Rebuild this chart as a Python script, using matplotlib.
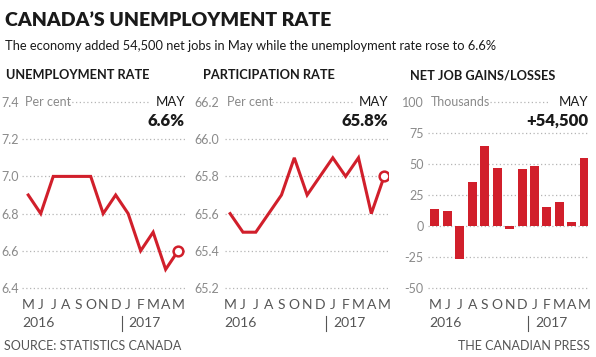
import matplotlib.pyplot as plt

months = ['M', 'J', 'J', 'A', 'S', 'O', 'N', 'D', 'J', 'F', 'M', 'A', 'M']
unemployment = [6.9, 6.8, 7.0, 7.0, 7.0, 7.0, 6.8, 6.9, 6.8, 6.6, 6.7, 6.5, 6.6]
participation = [65.6, 65.5, 65.5, 65.6, 65.7, 65.9, 65.7, 65.8, 65.9, 65.8, 65.9, 65.6, 65.8]
job_changes = [13.8, 11.7, -26.3, 35.6, 64.7, 46.7, -2.6, 45.9, 48.3, 15.3, 19.4, 3.2, 54.5]

unemp_ticks = [6.4, 6.6, 6.8, 7.0, 7.2, 7.4]
part_ticks = [65.2, 65.4, 65.6, 65.8, 66.0, 66.2]
job_ticks = [-50, -25, 0, 25, 50, 75, 100]

RED = '#d11f2b'
GREY = '#8a8a8a'
DARK = '#1a1a1a'

plt.rcParams['font.family'] = ['Lato', 'DejaVu Sans']

W, H = 596, 357
fig = plt.figure(figsize=(W / 100, H / 100), dpi=100)


def fx(px):
    return px / W


def fy(py):
    return 1 - py / H


def make_axes(left, right, top=102, bottom=288):
    ax = fig.add_axes([fx(left), fy(bottom), fx(right - left), (bottom - top) / H])
    for s in ax.spines.values():
        s.set_visible(False)
    ax.patch.set_alpha(0)
    return ax


def style_axes(ax, ticks, labels, xlim, pad, unit, dots, value):
    ax.set_xlim(*xlim)
    ax.set_ylim(ticks[0], ticks[-1])
    ax.set_yticks(ticks)
    ax.set_yticklabels(labels)
    ax.tick_params(axis='y', length=0, pad=pad, labelsize=9, labelcolor=GREY)
    ax.set_xticks(range(len(months)))
    ax.set_xticklabels(months)
    ax.tick_params(axis='x', length=0, pad=8, labelsize=10, labelcolor='#555555')
    for t in ticks[:-1]:
        ax.axhline(t, color='#b5b5b5', lw=0.9, ls=(0, (1, 2)), zorder=0, clip_on=False)
    # top line sits between the unit label and MAY
    ytr = ax.get_yaxis_transform()
    ax.plot(dots[1:], [ticks[-1]] * 2, transform=ytr,
            color='#b5b5b5', lw=0.9, ls=(0, (1, 2)), clip_on=False)
    ax.text(dots[0], ticks[-1], unit, transform=ytr,
            ha='left', va='center', fontsize=9, color=GREY)
    ax.text(1.0, ticks[-1], 'MAY', transform=ytr,
            ha='right', va='center', fontsize=9.5, color=DARK)
    ax.text(1.0, 0.9, value, transform=ax.transAxes,
            ha='right', va='center', fontsize=12, fontweight='heavy', color=DARK)
    xtr = ax.get_xaxis_transform()
    ax.text(-0.45, -0.19, '2016', transform=xtr,
            ha='left', va='center', fontsize=10, color='#555555')
    ax.text(8.05, -0.19, '2017', transform=xtr,
            ha='left', va='center', fontsize=10, color='#555555')
    ax.plot([7.5, 7.5], [-0.15, -0.23], transform=xtr,
            color='#555555', lw=0.8, clip_on=False)


# Unemployment rate
ax1 = make_axes(22, 185)
ax1.plot(range(len(unemployment)), unemployment, color=RED, lw=2.2, solid_joinstyle='miter')
ax1.plot(len(unemployment) - 1, unemployment[-1], 'o', ms=7, mfc='white', mec=RED, mew=1.8)
style_axes(ax1, unemp_ticks, [f'{t:.1f}' for t in unemp_ticks], (-0.5, 12.55), 2,
           'Per cent', (0.018, 0.28, 0.77), '6.6%')

# Participation rate
ax2 = make_axes(225, 388)
ax2.plot(range(len(participation)), participation, color=RED, lw=2.2, solid_joinstyle='miter')
ax2.plot(len(participation) - 1, participation[-1], 'o', ms=7, mfc='white', mec=RED, mew=1.8)
style_axes(ax2, part_ticks, [f'{t:.1f}' for t in part_ticks], (-0.4, 12.3), 4,
           'Per cent', (0.012, 0.29, 0.78), '65.8%')

# Net job gains/losses
ax3 = make_axes(428, 588)
ax3.bar(range(len(job_changes)), job_changes, width=0.72, color=RED, zorder=2)
style_axes(ax3, job_ticks, [str(t) for t in job_ticks], (-0.56, 12.3), 3,
           'Thousands', (0.019, 0.39, 0.75), '+54,500')

# Titles and credits
fig.text(fx(5), fy(21), 'CANADA\u2019S UNEMPLOYMENT RATE', fontsize=14, fontweight='heavy',
         color=DARK, va='center')
fig.text(fx(5), fy(46), 'The economy added 54,500 net jobs in May while the unemployment rate rose to 6.6%',
         fontsize=9.3, color=DARK, va='center')
for x, t in [(6, 'UNEMPLOYMENT RATE'), (203, 'PARTICIPATION RATE'), (410, 'NET JOB GAINS/LOSSES')]:
    fig.text(fx(x), fy(75), t, fontsize=9.2, fontweight='bold', color=DARK, va='center')
fig.text(fx(4), fy(346), 'SOURCE: STATISTICS CANADA', fontsize=9, color='#555555', va='center')
fig.text(fx(590), fy(346), 'THE CANADIAN PRESS', fontsize=9, color='#555555', va='center', ha='right')

fig.savefig('out.png', dpi=100)
